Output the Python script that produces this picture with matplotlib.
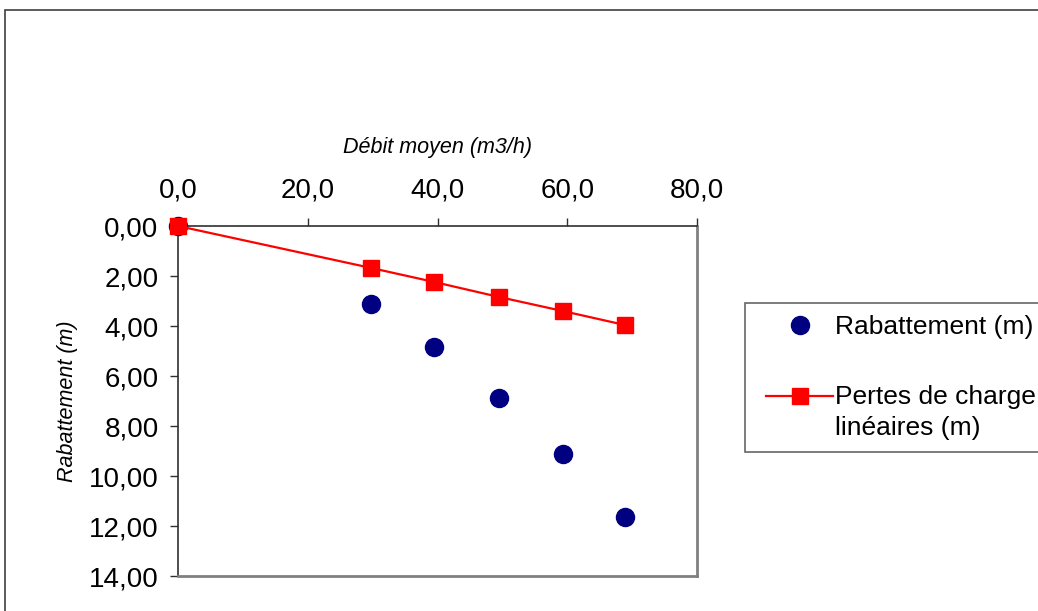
import numpy as np
import matplotlib.pyplot as plt
from matplotlib.patches import Rectangle
from matplotlib.ticker import FuncFormatter
from matplotlib.legend_handler import HandlerLine2D

# Débit moyen (m3/h)
debit = [0.0, 29.8, 39.5, 49.5, 59.3, 68.9]
# Rabattement mesuré (m)
rabattement = [0.0, 3.12, 4.84, 6.88, 9.12, 11.64]
# Pertes de charge linéaires (m)
pertes = [0.0, 1.68, 2.24, 2.84, 3.40, 3.96]

x_ticks = [0, 20, 40, 60, 80]
y_ticks = [0, 2, 4, 6, 8, 10, 12, 14]


class HandlerShifted(HandlerLine2D):
    # décale le symbole vers la droite (et vers le haut pour un libellé sur deux lignes)
    def __init__(self, dx=0.0, dy_lines=0.0, **kw):
        super().__init__(**kw)
        self.dx = dx
        self.dy_lines = dy_lines

    def create_artists(self, legend, orig_handle, xdescent, ydescent,
                       width, height, fontsize, trans):
        artists = super().create_artists(legend, orig_handle, xdescent, ydescent,
                                         width, height, fontsize, trans)
        dx = self.dx * fontsize
        for a in artists:
            xd = np.asarray(a.get_xdata(), dtype=float)
            if len(xd) == 2:
                xd = np.array([xd[0] + dx, xd[1]])
            else:
                xd = xd + dx / 2
            a.set_xdata(xd)
            a.set_ydata(np.asarray(a.get_ydata()) + self.dy_lines * fontsize)
        return artists


plt.rcParams['font.family'] = ['Liberation Sans', 'DejaVu Sans']

fig = plt.figure(figsize=(10.38, 6.11), dpi=100)

# cadre du graphique
fig.patches.append(Rectangle((5 / 1038, -0.1), 1.2, 1 - 10 / 611 + 0.1,
                             transform=fig.transFigure, fill=False,
                             edgecolor='#404040', linewidth=1.2))

ax = fig.add_axes([178 / 1038, 1 - 576 / 611, 519 / 1038, 350 / 611])

rab_line, = ax.plot(debit, rabattement, linestyle='none', marker='o', markersize=13,
                    color='#000080', label='Rabattement (m)', zorder=3, clip_on=False)
pertes_line, = ax.plot(debit, pertes, color='#ff0000', linewidth=1.6, marker='s',
                       markersize=11, label='Pertes de charge\nlinéaires (m)',
                       zorder=4, clip_on=False)

ax.set_xlim(0, 80)
ax.set_ylim(14, 0)
ax.set_xticks(x_ticks)
ax.set_yticks(y_ticks)
ax.xaxis.set_major_formatter(FuncFormatter(lambda v, p: f"{v:.1f}".replace('.', ',')))
ax.yaxis.set_major_formatter(FuncFormatter(lambda v, p: f"{v:.2f}".replace('.', ',')))

ax.xaxis.tick_top()
ax.xaxis.set_label_position('top')
ax.tick_params(axis='x', direction='out', length=6, width=1, pad=10,
               labelsize=20, top=True, bottom=False, colors='#303030',
               labelcolor='black')
ax.tick_params(axis='y', direction='out', length=6, width=1, pad=8,
               labelsize=20, colors='#303030', labelcolor='black')

for s in ['top', 'left']:
    ax.spines[s].set_color('#303030')
    ax.spines[s].set_linewidth(1.2)
for s in ['right', 'bottom']:
    ax.spines[s].set_color('#808080')
    ax.spines[s].set_linewidth(2)

ax.set_xlabel('Débit moyen (m3/h)', fontsize=15.5, style='italic', labelpad=18)
ax.set_ylabel('Rabattement (m)', fontsize=15.5, style='italic', labelpad=8)

leg = fig.legend(loc='upper left', bbox_to_anchor=(745 / 1038, 1 - 303 / 611),
                 borderaxespad=0, fontsize=19, frameon=True, fancybox=False,
                 labelspacing=1.75, handlelength=2.55, handletextpad=0.4,
                 borderpad=0.45,
                 handler_map={rab_line: HandlerShifted(dx=0.7),
                              pertes_line: HandlerShifted(dx=0.7, dy_lines=0.62)})
leg.get_frame().set_edgecolor('#404040')
leg.get_frame().set_linewidth(1.2)
for t in leg.get_texts():
    t.set_linespacing(1.35)

fig.savefig('out.png', dpi=100)
